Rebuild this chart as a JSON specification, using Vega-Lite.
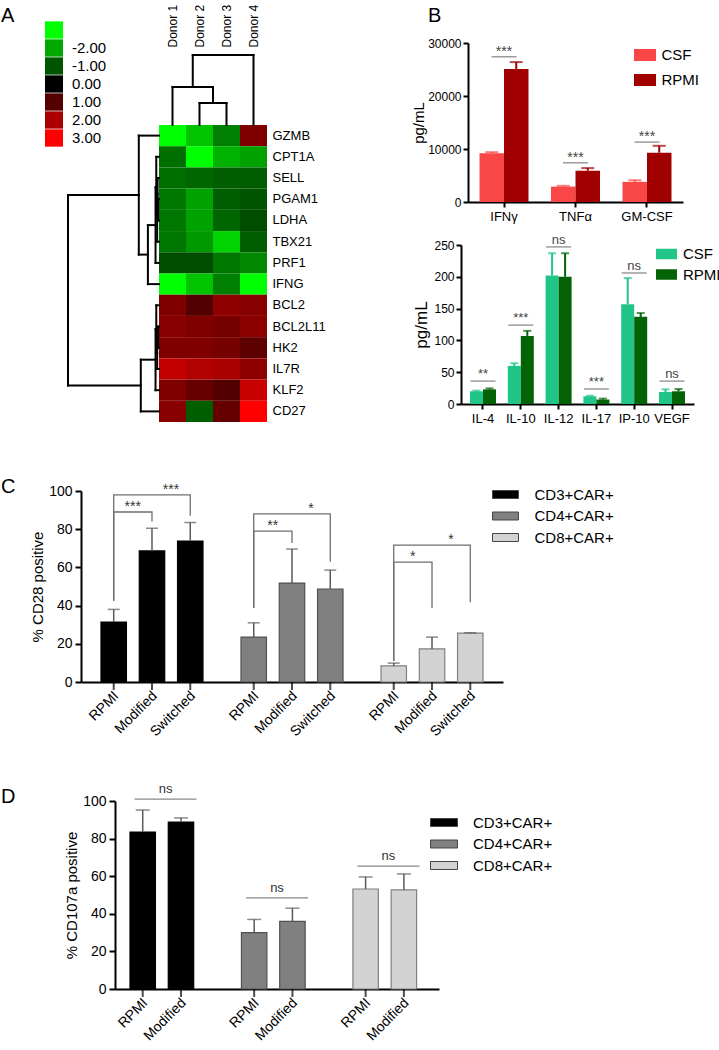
{
  "$schema": "https://vega.github.io/schema/vega-lite/v6.json",
  "padding": {"left": 0, "top": 0, "right": 0, "bottom": 0},
  "background": "white",
  "config": {
    "view": {"stroke": null},
    "font": "Liberation Sans",
    "axis": {"grid": false, "domainColor": "black", "tickColor": "black", "labelColor": "black", "titleColor": "black", "labelFont": "Liberation Sans", "titleFont": "Liberation Sans", "titleFontWeight": "normal"},
    "legend": {"labelFont": "Liberation Sans", "labelColor": "black", "padding": 0},
    "title": {"font": "Liberation Sans", "fontWeight": "normal", "fontSize": 20, "anchor": "start", "frame": "group", "color": "black", "baseline": "alphabetic", "offset": 0}
  },
  "datasets": {
    "heat": [
      {"gene": "GZMB", "donor": "Donor 1", "v": -3}, {"gene": "GZMB", "donor": "Donor 2", "v": -2.3}, {"gene": "GZMB", "donor": "Donor 3", "v": -1.5}, {"gene": "GZMB", "donor": "Donor 4", "v": 1.5},
      {"gene": "CPT1A", "donor": "Donor 1", "v": -1.3}, {"gene": "CPT1A", "donor": "Donor 2", "v": -3}, {"gene": "CPT1A", "donor": "Donor 3", "v": -2.1}, {"gene": "CPT1A", "donor": "Donor 4", "v": -1.9},
      {"gene": "SELL", "donor": "Donor 1", "v": -1.3}, {"gene": "SELL", "donor": "Donor 2", "v": -1.2}, {"gene": "SELL", "donor": "Donor 3", "v": -1.1}, {"gene": "SELL", "donor": "Donor 4", "v": -1.1},
      {"gene": "PGAM1", "donor": "Donor 1", "v": -1.4}, {"gene": "PGAM1", "donor": "Donor 2", "v": -1.9}, {"gene": "PGAM1", "donor": "Donor 3", "v": -1.1}, {"gene": "PGAM1", "donor": "Donor 4", "v": -1.0},
      {"gene": "LDHA", "donor": "Donor 1", "v": -1.4}, {"gene": "LDHA", "donor": "Donor 2", "v": -1.9}, {"gene": "LDHA", "donor": "Donor 3", "v": -1.2}, {"gene": "LDHA", "donor": "Donor 4", "v": -0.9},
      {"gene": "TBX21", "donor": "Donor 1", "v": -1.4}, {"gene": "TBX21", "donor": "Donor 2", "v": -1.8}, {"gene": "TBX21", "donor": "Donor 3", "v": -2.5}, {"gene": "TBX21", "donor": "Donor 4", "v": -1.1},
      {"gene": "PRF1", "donor": "Donor 1", "v": -0.9}, {"gene": "PRF1", "donor": "Donor 2", "v": -0.9}, {"gene": "PRF1", "donor": "Donor 3", "v": -1.4}, {"gene": "PRF1", "donor": "Donor 4", "v": -1.6},
      {"gene": "IFNG", "donor": "Donor 1", "v": -3}, {"gene": "IFNG", "donor": "Donor 2", "v": -2.3}, {"gene": "IFNG", "donor": "Donor 3", "v": -1.5}, {"gene": "IFNG", "donor": "Donor 4", "v": -3},
      {"gene": "BCL2", "donor": "Donor 1", "v": 1.5}, {"gene": "BCL2", "donor": "Donor 2", "v": 1.0}, {"gene": "BCL2", "donor": "Donor 3", "v": 1.7}, {"gene": "BCL2", "donor": "Donor 4", "v": 1.6},
      {"gene": "BCL2L11", "donor": "Donor 1", "v": 1.6}, {"gene": "BCL2L11", "donor": "Donor 2", "v": 1.5}, {"gene": "BCL2L11", "donor": "Donor 3", "v": 1.4}, {"gene": "BCL2L11", "donor": "Donor 4", "v": 1.65},
      {"gene": "HK2", "donor": "Donor 1", "v": 1.5}, {"gene": "HK2", "donor": "Donor 2", "v": 1.5}, {"gene": "HK2", "donor": "Donor 3", "v": 1.4}, {"gene": "HK2", "donor": "Donor 4", "v": 1.1},
      {"gene": "IL7R", "donor": "Donor 1", "v": 2.3}, {"gene": "IL7R", "donor": "Donor 2", "v": 2.1}, {"gene": "IL7R", "donor": "Donor 3", "v": 2.0}, {"gene": "IL7R", "donor": "Donor 4", "v": 1.7},
      {"gene": "KLF2", "donor": "Donor 1", "v": 1.5}, {"gene": "KLF2", "donor": "Donor 2", "v": 1.2}, {"gene": "KLF2", "donor": "Donor 3", "v": 1.0}, {"gene": "KLF2", "donor": "Donor 4", "v": 2.35},
      {"gene": "CD27", "donor": "Donor 1", "v": 1.6}, {"gene": "CD27", "donor": "Donor 2", "v": -1.1}, {"gene": "CD27", "donor": "Donor 3", "v": 1.2}, {"gene": "CD27", "donor": "Donor 4", "v": 3.0}
    ],
    "coldendro": [
      {"x1": 1.5, "x2": 1.5, "h1": 0, "h2": 0.314}, {"x1": 2.5, "x2": 2.5, "h1": 0, "h2": 0.314}, {"x1": 1.5, "x2": 2.5, "h1": 0.314, "h2": 0.314},
      {"x1": 0.5, "x2": 0.5, "h1": 0, "h2": 0.543}, {"x1": 2, "x2": 2, "h1": 0.314, "h2": 0.543}, {"x1": 0.5, "x2": 2, "h1": 0.543, "h2": 0.543},
      {"x1": 1.25, "x2": 1.25, "h1": 0.543, "h2": 1}, {"x1": 3.5, "x2": 3.5, "h1": 0, "h2": 1}, {"x1": 1.25, "x2": 3.5, "h1": 1, "h2": 1}
    ],
    "rowdendro": [
      {"d1": 0.01, "d2": 0.01, "p1": 3.5, "p2": 4.5}, {"d1": 0, "d2": 0.01, "p1": 3.5, "p2": 3.5}, {"d1": 0, "d2": 0.01, "p1": 4.5, "p2": 4.5},
      {"d1": 0.015, "d2": 0.015, "p1": 2.5, "p2": 4.0}, {"d1": 0, "d2": 0.015, "p1": 2.5, "p2": 2.5}, {"d1": 0.01, "d2": 0.015, "p1": 4.0, "p2": 4.0},
      {"d1": 0.02, "d2": 0.02, "p1": 3.25, "p2": 5.5}, {"d1": 0.015, "d2": 0.02, "p1": 3.25, "p2": 3.25}, {"d1": 0, "d2": 0.02, "p1": 5.5, "p2": 5.5},
      {"d1": 0.03, "d2": 0.03, "p1": 1.5, "p2": 4.375}, {"d1": 0, "d2": 0.03, "p1": 1.5, "p2": 1.5}, {"d1": 0.02, "d2": 0.03, "p1": 4.375, "p2": 4.375},
      {"d1": 0.038, "d2": 0.038, "p1": 2.9375, "p2": 6.5}, {"d1": 0.03, "d2": 0.038, "p1": 2.9375, "p2": 2.9375}, {"d1": 0, "d2": 0.038, "p1": 6.5, "p2": 6.5},
      {"d1": 0.122, "d2": 0.122, "p1": 4.71875, "p2": 7.5}, {"d1": 0.038, "d2": 0.122, "p1": 4.71875, "p2": 4.71875}, {"d1": 0, "d2": 0.122, "p1": 7.5, "p2": 7.5},
      {"d1": 0.222, "d2": 0.222, "p1": 0.5, "p2": 6.109}, {"d1": 0, "d2": 0.222, "p1": 0.5, "p2": 0.5}, {"d1": 0.122, "d2": 0.222, "p1": 6.109, "p2": 6.109},
      {"d1": 0.01, "d2": 0.01, "p1": 9.5, "p2": 10.5}, {"d1": 0, "d2": 0.01, "p1": 9.5, "p2": 9.5}, {"d1": 0, "d2": 0.01, "p1": 10.5, "p2": 10.5},
      {"d1": 0.02, "d2": 0.02, "p1": 10.0, "p2": 11.5}, {"d1": 0.01, "d2": 0.02, "p1": 10.0, "p2": 10.0}, {"d1": 0, "d2": 0.02, "p1": 11.5, "p2": 11.5},
      {"d1": 0.03, "d2": 0.03, "p1": 8.5, "p2": 10.75}, {"d1": 0, "d2": 0.03, "p1": 8.5, "p2": 8.5}, {"d1": 0.02, "d2": 0.03, "p1": 10.75, "p2": 10.75},
      {"d1": 0.038, "d2": 0.038, "p1": 9.625, "p2": 12.5}, {"d1": 0.03, "d2": 0.038, "p1": 9.625, "p2": 9.625}, {"d1": 0, "d2": 0.038, "p1": 12.5, "p2": 12.5},
      {"d1": 0.2, "d2": 0.2, "p1": 11.0625, "p2": 13.5}, {"d1": 0.038, "d2": 0.2, "p1": 11.0625, "p2": 11.0625}, {"d1": 0, "d2": 0.2, "p1": 13.5, "p2": 13.5},
      {"d1": 1, "d2": 1, "p1": 3.305, "p2": 12.28}, {"d1": 0.222, "d2": 1, "p1": 3.305, "p2": 3.305}, {"d1": 0.2, "d2": 1, "p1": 12.28, "p2": 12.28}
    ],
    "b1": [
      {"cat": "IFNγ", "grp": "CSF", "mean": 9200, "up": 9400}, {"cat": "IFNγ", "grp": "RPMI", "mean": 25100, "up": 26400},
      {"cat": "TNFα", "grp": "CSF", "mean": 2900, "up": 3050}, {"cat": "TNFα", "grp": "RPMI", "mean": 5900, "up": 6400},
      {"cat": "GM-CSF", "grp": "CSF", "mean": 3800, "up": 4100}, {"cat": "GM-CSF", "grp": "RPMI", "mean": 9300, "up": 10600}
    ],
    "b1sig": [
      {"cat": "IFNγ", "y": 27400, "label": "***"}, {"cat": "TNFα", "y": 7400, "label": "***"}, {"cat": "GM-CSF", "y": 11300, "label": "***"}
    ],
    "b2": [
      {"cat": "IL-4", "grp": "CSF", "mean": 20, "up": 21}, {"cat": "IL-4", "grp": "RPMI", "mean": 23, "up": 24.5},
      {"cat": "IL-10", "grp": "CSF", "mean": 60, "up": 64}, {"cat": "IL-10", "grp": "RPMI", "mean": 107, "up": 115},
      {"cat": "IL-12", "grp": "CSF", "mean": 202, "up": 237}, {"cat": "IL-12", "grp": "RPMI", "mean": 200, "up": 237},
      {"cat": "IL-17", "grp": "CSF", "mean": 12, "up": 13}, {"cat": "IL-17", "grp": "RPMI", "mean": 7, "up": 8.5},
      {"cat": "IP-10", "grp": "CSF", "mean": 157, "up": 198}, {"cat": "IP-10", "grp": "RPMI", "mean": 137, "up": 143},
      {"cat": "VEGF", "grp": "CSF", "mean": 19, "up": 23}, {"cat": "VEGF", "grp": "RPMI", "mean": 20, "up": 23.5}
    ],
    "b2sig": [
      {"cat": "IL-4", "y": 36, "label": "**"}, {"cat": "IL-10", "y": 124, "label": "***"}, {"cat": "IL-12", "y": 247, "label": "ns"},
      {"cat": "IL-17", "y": 23.6, "label": "***"}, {"cat": "IP-10", "y": 206, "label": "ns"}, {"cat": "VEGF", "y": 36, "label": "ns"}
    ],
    "c": [
      {"ct": "CD3+CAR+", "cond": "RPMI", "mean": 31.4, "up": 38}, {"ct": "CD3+CAR+", "cond": "Modified", "mean": 68.6, "up": 80.5}, {"ct": "CD3+CAR+", "cond": "Switched", "mean": 73.8, "up": 83.5},
      {"ct": "CD4+CAR+", "cond": "RPMI", "mean": 23.5, "up": 31}, {"ct": "CD4+CAR+", "cond": "Modified", "mean": 51.8, "up": 69.6}, {"ct": "CD4+CAR+", "cond": "Switched", "mean": 48.7, "up": 58.6},
      {"ct": "CD8+CAR+", "cond": "RPMI", "mean": 8.4, "up": 9.9}, {"ct": "CD8+CAR+", "cond": "Modified", "mean": 17.3, "up": 23.5}, {"ct": "CD8+CAR+", "cond": "Switched", "mean": 25.6, "up": 25.8}
    ],
    "cbr": [
      {"id": "c3a", "ct": "CD3+CAR+", "cond": "RPMI", "v": 42.5, "o": 1}, {"id": "c3a", "ct": "CD3+CAR+", "cond": "RPMI", "v": 89, "o": 2}, {"id": "c3a", "ct": "CD3+CAR+", "cond": "Modified", "v": 89, "o": 3}, {"id": "c3a", "ct": "CD3+CAR+", "cond": "Modified", "v": 84, "o": 4},
      {"id": "c3b", "ct": "CD3+CAR+", "cond": "RPMI", "v": 42.5, "o": 1}, {"id": "c3b", "ct": "CD3+CAR+", "cond": "RPMI", "v": 98, "o": 2}, {"id": "c3b", "ct": "CD3+CAR+", "cond": "Switched", "v": 98, "o": 3}, {"id": "c3b", "ct": "CD3+CAR+", "cond": "Switched", "v": 87, "o": 4},
      {"id": "c4a", "ct": "CD4+CAR+", "cond": "RPMI", "v": 38.7, "o": 1}, {"id": "c4a", "ct": "CD4+CAR+", "cond": "RPMI", "v": 79, "o": 2}, {"id": "c4a", "ct": "CD4+CAR+", "cond": "Modified", "v": 79, "o": 3}, {"id": "c4a", "ct": "CD4+CAR+", "cond": "Modified", "v": 72.8, "o": 4},
      {"id": "c4b", "ct": "CD4+CAR+", "cond": "RPMI", "v": 38.7, "o": 1}, {"id": "c4b", "ct": "CD4+CAR+", "cond": "RPMI", "v": 88, "o": 2}, {"id": "c4b", "ct": "CD4+CAR+", "cond": "Switched", "v": 88, "o": 3}, {"id": "c4b", "ct": "CD4+CAR+", "cond": "Switched", "v": 63, "o": 4},
      {"id": "c8a", "ct": "CD8+CAR+", "cond": "RPMI", "v": 11, "o": 1}, {"id": "c8a", "ct": "CD8+CAR+", "cond": "RPMI", "v": 62.8, "o": 2}, {"id": "c8a", "ct": "CD8+CAR+", "cond": "Modified", "v": 62.8, "o": 3}, {"id": "c8a", "ct": "CD8+CAR+", "cond": "Modified", "v": 38.7, "o": 4},
      {"id": "c8b", "ct": "CD8+CAR+", "cond": "RPMI", "v": 11, "o": 1}, {"id": "c8b", "ct": "CD8+CAR+", "cond": "RPMI", "v": 71.7, "o": 2}, {"id": "c8b", "ct": "CD8+CAR+", "cond": "Switched", "v": 71.7, "o": 3}, {"id": "c8b", "ct": "CD8+CAR+", "cond": "Switched", "v": 41.8, "o": 4}
    ],
    "ctext": [
      {"ct": "CD3+CAR+", "a": "RPMI", "v": 89, "label": "***"}, {"ct": "CD3+CAR+", "a": "Modified", "v": 98, "label": "***"},
      {"ct": "CD4+CAR+", "a": "RPMI", "v": 79, "label": "**"}, {"ct": "CD4+CAR+", "a": "Modified", "v": 88, "label": "*"},
      {"ct": "CD8+CAR+", "a": "RPMI", "v": 62.8, "label": "*"}, {"ct": "CD8+CAR+", "a": "Modified", "v": 71.7, "label": "*"}
    ],
    "d": [
      {"ct": "CD3+CAR+", "cond": "RPMI", "mean": 83.5, "up": 95.2}, {"ct": "CD3+CAR+", "cond": "Modified", "mean": 88.8, "up": 91},
      {"ct": "CD4+CAR+", "cond": "RPMI", "mean": 30, "up": 37}, {"ct": "CD4+CAR+", "cond": "Modified", "mean": 36, "up": 43},
      {"ct": "CD8+CAR+", "cond": "RPMI", "mean": 53.2, "up": 59.6}, {"ct": "CD8+CAR+", "cond": "Modified", "mean": 52.7, "up": 61.2}
    ],
    "dsig": [
      {"ct": "CD3+CAR+", "v": 101, "label": "ns"}, {"ct": "CD4+CAR+", "v": 48.5, "label": "ns"}, {"ct": "CD8+CAR+", "v": 65.4, "label": "ns"}
    ]
  },
  "bounds": "flush",
  "spacing": 0,
  "vconcat": [
    {
      "width": 719, "height": 1,
      "title": {"text": "A", "dx": 1, "dy": 30},
      "resolve": {"scale": {"x": "independent", "y": "independent"}, "axis": {"x": "independent", "y": "independent"}},
      "layer": [
        {
          "data": {"name": "heat"},
          "mark": {"type": "rect"},
          "encoding": {
            "x": {"field": "donor", "type": "nominal", "sort": ["Donor 1", "Donor 2", "Donor 3", "Donor 4"], "scale": {"range": [159, 267], "paddingInner": 0, "paddingOuter": 0},
              "axis": {"orient": "top", "offset": -49, "title": null, "labelAngle": 270, "labelFontSize": 12, "ticks": false, "domain": false, "labelPadding": 2}},
            "y": {"field": "gene", "type": "nominal", "sort": ["GZMB", "CPT1A", "SELL", "PGAM1", "LDHA", "TBX21", "PRF1", "IFNG", "BCL2", "BCL2L11", "HK2", "IL7R", "KLF2", "CD27"], "scale": {"range": [125, 422], "paddingInner": 0, "paddingOuter": 0},
              "axis": {"orient": "right", "offset": -452, "title": null, "ticks": false, "domain": false, "labelFontSize": 13, "labelPadding": 5}},
            "color": {"field": "v", "type": "quantitative",
              "scale": {"domain": [-3, 0, 3], "range": ["#00ff00", "#000000", "#ff0000"], "interpolate": "rgb", "clamp": true},
              "legend": {"type": "symbol", "values": [-3, -2, -1, 0, 1, 2, 3], "orient": "none", "legendX": 45, "legendY": 21, "direction": "vertical", "title": null,
                "symbolType": "M-1.04,-1H1.04V1H-1.04Z", "symbolSize": 300, "symbolStrokeWidth": 0, "symbolOpacity": 1, "rowPadding": 0,
                "labelFontSize": 15, "labelOffset": 9, "padding": 0,
                "labelExpr": "datum.value == -3 ? '' : (datum.value < 0 ? '-' + format(-datum.value, '.2f') : format(datum.value, '.2f'))"}}
          }
        },
        {
          "data": {"name": "rowdendro"},
          "mark": {"type": "rule", "strokeWidth": 2, "color": "black", "strokeCap": "square"},
          "encoding": {
            "x": {"field": "d1", "type": "quantitative", "scale": {"domain": [0, 1], "range": [159, 68], "nice": false, "zero": false}, "axis": null},
            "x2": {"field": "d2"},
            "y": {"field": "p1", "type": "quantitative", "scale": {"domain": [0, 14], "range": [125, 422], "nice": false, "zero": false}, "axis": null},
            "y2": {"field": "p2"}
          }
        },
        {
          "data": {"name": "coldendro"},
          "mark": {"type": "rule", "strokeWidth": 2, "color": "black", "strokeCap": "square"},
          "encoding": {
            "x": {"field": "x1", "type": "quantitative", "scale": {"domain": [0, 4], "range": [159, 267], "nice": false, "zero": false}, "axis": null},
            "x2": {"field": "x2"},
            "y": {"field": "h1", "type": "quantitative", "scale": {"domain": [0, 1], "range": [125, 55], "nice": false}, "axis": null},
            "y2": {"field": "h2"}
          }
        }
      ]
    },
    {
      "width": 719, "height": 1,
      "title": {"text": "B", "dx": 428, "dy": 29},
      "resolve": {"scale": {"x": "independent", "y": "independent", "xOffset": "independent", "color": "independent", "fill": "independent", "stroke": "independent"}, "axis": {"x": "independent", "y": "independent"}, "legend": {"color": "independent"}},
      "layer": [
        {
          "layer": [
            {
              "data": {"name": "b1"},
              "mark": {"type": "bar"},
              "encoding": {
                "x": {"field": "cat", "type": "nominal", "sort": ["IFNγ", "TNFα", "GM-CSF"], "scale": {"range": [468, 683], "paddingInner": 0.315, "paddingOuter": 0.161},
                  "axis": {"orient": "bottom", "offset": 200, "title": null, "labelAngle": 0, "labelFontSize": 13, "domainWidth": 2, "tickWidth": 2, "tickSize": 5, "labelPadding": 3}},
                "xOffset": {"field": "grp", "type": "nominal", "scale": {"domain": ["CSF", "RPMI"], "paddingInner": 0, "paddingOuter": 0}},
                "y": {"field": "mean", "type": "quantitative", "scale": {"domain": [0, 30000], "range": [201, 42], "nice": false},
                  "axis": {"orient": "left", "offset": -468, "values": [0, 10000, 20000, 30000], "tickCount": 20, "format": "d", "title": "pg/mL", "titleFontSize": 15, "titlePadding": 1, "labelFontSize": 12, "domainWidth": 2, "tickWidth": 2, "tickSize": 5, "labelPadding": 2}},
                "color": {"field": "grp", "type": "nominal", "scale": {"domain": ["CSF", "RPMI"], "range": ["#f94646", "#a00000"]},
                  "legend": {"orient": "none", "legendX": 634, "legendY": 46.5, "direction": "vertical", "title": null, "symbolType": "M-1.467,-0.8H1.467V0.8H-1.467Z", "symbolSize": 225, "symbolOffset": 3.5, "symbolStrokeWidth": 0, "labelFontSize": 15, "labelOffset": 9, "rowPadding": 9, "padding": 0}}
              }
            },
            {
              "data": {"name": "b1"},
              "mark": {"type": "rule", "strokeWidth": 2},
              "encoding": {
                "x": {"field": "cat", "type": "nominal", "sort": ["IFNγ", "TNFα", "GM-CSF"]},
                "xOffset": {"field": "grp", "type": "nominal", "scale": {"domain": ["CSF", "RPMI"], "paddingInner": 0, "paddingOuter": 0}},
                "y": {"field": "mean", "type": "quantitative"},
                "y2": {"field": "up"},
                "stroke": {"field": "grp", "type": "nominal", "scale": {"domain": ["CSF", "RPMI"], "range": ["#f94646", "#a00000"]}, "legend": null}
              }
            },
            {
              "data": {"name": "b1"},
              "mark": {"type": "tick", "orient": "horizontal", "size": 13, "thickness": 2},
              "encoding": {
                "x": {"field": "cat", "type": "nominal", "sort": ["IFNγ", "TNFα", "GM-CSF"]},
                "xOffset": {"field": "grp", "type": "nominal", "scale": {"domain": ["CSF", "RPMI"], "paddingInner": 0, "paddingOuter": 0}},
                "y": {"field": "up", "type": "quantitative"},
                "fill": {"field": "grp", "type": "nominal", "scale": {"domain": ["CSF", "RPMI"], "range": ["#f94646", "#a00000"]}, "legend": null}
              }
            },
            {
              "data": {"name": "b1sig"},
              "mark": {"type": "tick", "orient": "horizontal", "size": 25, "thickness": 1.5, "color": "#707070"},
              "encoding": {
                "x": {"field": "cat", "type": "nominal", "sort": ["IFNγ", "TNFα", "GM-CSF"]},
                "y": {"field": "y", "type": "quantitative"}
              }
            },
            {
              "data": {"name": "b1sig"},
              "mark": {"type": "text", "baseline": "bottom", "dy": 2, "fontSize": 14, "color": "#444444"},
              "encoding": {
                "x": {"field": "cat", "type": "nominal", "sort": ["IFNγ", "TNFα", "GM-CSF"]},
                "y": {"field": "y", "type": "quantitative"},
                "text": {"field": "label"}
              }
            }
          ]
        },
        {
          "layer": [
            {
              "data": {"name": "b2"},
              "mark": {"type": "bar"},
              "encoding": {
                "x": {"field": "cat", "type": "nominal", "sort": ["IL-4", "IL-10", "IL-12", "IL-17", "IP-10", "VEGF"], "scale": {"range": [461, 694], "paddingInner": 0.312, "paddingOuter": 0.238},
                  "axis": {"orient": "bottom", "offset": 402, "title": null, "labelAngle": 0, "labelFontSize": 13, "domainWidth": 2, "tickWidth": 2, "tickSize": 5, "labelPadding": 3}},
                "xOffset": {"field": "grp", "type": "nominal", "scale": {"domain": ["CSF", "RPMI"], "paddingInner": 0, "paddingOuter": 0}},
                "y": {"field": "mean", "type": "quantitative", "scale": {"domain": [0, 250], "range": [403, 244], "nice": false},
                  "axis": {"orient": "left", "offset": -461, "values": [0, 50, 100, 150, 200, 250], "tickCount": 20, "title": "pg/mL", "titleFontSize": 17, "labelFontSize": 12, "domainWidth": 2, "tickWidth": 2, "tickSize": 5, "labelPadding": 2, "titlePadding": 3}},
                "color": {"field": "grp", "type": "nominal", "scale": {"domain": ["CSF", "RPMI"], "range": ["#20c587", "#046307"]},
                  "legend": {"orient": "none", "legendX": 656, "legendY": 245.5, "direction": "vertical", "title": null, "symbolType": "M-1.4,-0.7H1.4V0.7H-1.4Z", "symbolSize": 225, "symbolOffset": 3, "symbolStrokeWidth": 0, "labelFontSize": 15, "labelOffset": 9, "rowPadding": 4.5, "padding": 0}}
              }
            },
            {
              "data": {"name": "b2"},
              "mark": {"type": "rule", "strokeWidth": 2},
              "encoding": {
                "x": {"field": "cat", "type": "nominal", "sort": ["IL-4", "IL-10", "IL-12", "IL-17", "IP-10", "VEGF"]},
                "xOffset": {"field": "grp", "type": "nominal", "scale": {"domain": ["CSF", "RPMI"], "paddingInner": 0, "paddingOuter": 0}},
                "y": {"field": "mean", "type": "quantitative"},
                "y2": {"field": "up"},
                "stroke": {"field": "grp", "type": "nominal", "scale": {"domain": ["CSF", "RPMI"], "range": ["#20c587", "#046307"]}, "legend": null}
              }
            },
            {
              "data": {"name": "b2"},
              "mark": {"type": "tick", "orient": "horizontal", "size": 8, "thickness": 2},
              "encoding": {
                "x": {"field": "cat", "type": "nominal", "sort": ["IL-4", "IL-10", "IL-12", "IL-17", "IP-10", "VEGF"]},
                "xOffset": {"field": "grp", "type": "nominal", "scale": {"domain": ["CSF", "RPMI"], "paddingInner": 0, "paddingOuter": 0}},
                "y": {"field": "up", "type": "quantitative"},
                "fill": {"field": "grp", "type": "nominal", "scale": {"domain": ["CSF", "RPMI"], "range": ["#20c587", "#046307"]}, "legend": null}
              }
            },
            {
              "data": {"name": "b2sig"},
              "mark": {"type": "tick", "orient": "horizontal", "size": 25, "thickness": 1.5, "color": "#707070"},
              "encoding": {
                "x": {"field": "cat", "type": "nominal", "sort": ["IL-4", "IL-10", "IL-12", "IL-17", "IP-10", "VEGF"]},
                "y": {"field": "y", "type": "quantitative"}
              }
            },
            {
              "data": {"name": "b2sig"},
              "mark": {"type": "text", "baseline": "bottom", "dy": 0, "fontSize": 13, "color": "#444444"},
              "encoding": {
                "x": {"field": "cat", "type": "nominal", "sort": ["IL-4", "IL-10", "IL-12", "IL-17", "IP-10", "VEGF"]},
                "y": {"field": "y", "type": "quantitative"},
                "text": {"field": "label"}
              }
            }
          ]
        }
      ]
    },
    {
      "width": 719, "height": 1,
      "title": {"text": "C", "dx": 1, "dy": 499},
      "layer": [
        {
          "data": {"name": "c"},
          "mark": {"type": "bar", "strokeWidth": 1.2},
          "encoding": {
            "x": {"field": "ct", "type": "nominal", "sort": ["CD3+CAR+", "CD4+CAR+", "CD8+CAR+"], "scale": {"range": [81, 503], "paddingInner": 0.18, "paddingOuter": 0.097},
              "axis": {"orient": "bottom", "offset": 679, "title": null, "labels": false, "ticks": false, "domainWidth": 2}},
            "xOffset": {"field": "cond", "type": "nominal", "scale": {"domain": ["RPMI", "Modified", "Switched"], "paddingInner": 0.335, "paddingOuter": 0.1675}},
            "y": {"field": "mean", "type": "quantitative", "scale": {"domain": [0, 100], "range": [680, 489], "nice": false},
              "axis": {"orient": "left", "offset": -81, "values": [0, 20, 40, 60, 80, 100], "tickCount": 20, "title": "% CD28 positive", "titleFontSize": 15, "labelFontSize": 14, "domainWidth": 2, "tickWidth": 2, "tickSize": 6, "labelPadding": 3, "titlePadding": 3}},
            "color": {"field": "ct", "type": "nominal", "scale": {"domain": ["CD3+CAR+", "CD4+CAR+", "CD8+CAR+"], "range": ["#000000", "#808080", "#d3d3d3"]},
              "legend": {"orient": "none", "legendX": 492, "legendY": 484.5, "direction": "vertical", "title": null, "symbolType": "M-1.733,-0.533H1.733V0.533H-1.733Z", "symbolSize": 225, "symbolOffset": 5.5, "symbolStrokeColor": "#444444", "symbolStrokeWidth": 1, "labelFontSize": 15, "labelOffset": 21, "rowPadding": 5.5, "padding": 0}},
            "stroke": {"field": "ct", "type": "nominal", "scale": {"domain": ["CD3+CAR+", "CD4+CAR+", "CD8+CAR+"], "range": ["#000000", "#505050", "#808080"]}, "legend": null}
          }
        },
        {
          "data": {"name": "c"},
          "mark": {"type": "rule", "strokeWidth": 1.5, "color": "#5a5a5a"},
          "encoding": {
            "x": {"field": "ct", "type": "nominal", "sort": ["CD3+CAR+", "CD4+CAR+", "CD8+CAR+"]},
            "xOffset": {"field": "cond", "type": "nominal", "scale": {"domain": ["RPMI", "Modified", "Switched"], "paddingInner": 0.335, "paddingOuter": 0.1675}},
            "y": {"field": "mean", "type": "quantitative"},
            "y2": {"field": "up"}
          }
        },
        {
          "data": {"name": "c"},
          "mark": {"type": "tick", "orient": "horizontal", "size": 12, "thickness": 1.5, "color": "#5a5a5a"},
          "encoding": {
            "x": {"field": "ct", "type": "nominal", "sort": ["CD3+CAR+", "CD4+CAR+", "CD8+CAR+"]},
            "xOffset": {"field": "cond", "type": "nominal", "scale": {"domain": ["RPMI", "Modified", "Switched"], "paddingInner": 0.335, "paddingOuter": 0.1675}},
            "y": {"field": "up", "type": "quantitative"}
          }
        },
        {
          "data": {"name": "cbr"},
          "mark": {"type": "line", "strokeWidth": 1.3, "color": "#6e6e6e"},
          "encoding": {
            "x": {"field": "ct", "type": "nominal", "sort": ["CD3+CAR+", "CD4+CAR+", "CD8+CAR+"]},
            "xOffset": {"field": "cond", "type": "nominal", "scale": {"domain": ["RPMI", "Modified", "Switched"], "paddingInner": 0.335, "paddingOuter": 0.1675}},
            "y": {"field": "v", "type": "quantitative"},
            "detail": {"field": "id"},
            "order": {"field": "o", "type": "quantitative"}
          }
        },
        {
          "data": {"name": "ctext"},
          "mark": {"type": "text", "baseline": "bottom", "dx": 19, "dy": 2, "fontSize": 14, "color": "#333333"},
          "encoding": {
            "x": {"field": "ct", "type": "nominal", "sort": ["CD3+CAR+", "CD4+CAR+", "CD8+CAR+"]},
            "xOffset": {"field": "a", "type": "nominal", "scale": {"domain": ["RPMI", "Modified", "Switched"], "paddingInner": 0.335, "paddingOuter": 0.1675}},
            "y": {"field": "v", "type": "quantitative"},
            "text": {"field": "label"}
          }
        },
        {
          "data": {"name": "c"},
          "mark": {"type": "tick", "orient": "vertical", "size": 8, "thickness": 2, "color": "black", "yOffset": 4},
          "encoding": {
            "x": {"field": "ct", "type": "nominal", "sort": ["CD3+CAR+", "CD4+CAR+", "CD8+CAR+"]},
            "xOffset": {"field": "cond", "type": "nominal", "scale": {"domain": ["RPMI", "Modified", "Switched"], "paddingInner": 0.335, "paddingOuter": 0.1675}},
            "y": {"datum": 0, "type": "quantitative"}
          }
        },
        {
          "data": {"name": "c"},
          "mark": {"type": "text", "angle": 315, "align": "right", "baseline": "middle", "fontSize": 14, "yOffset": 12, "dx": 2, "dy": 2, "color": "black"},
          "encoding": {
            "x": {"field": "ct", "type": "nominal", "sort": ["CD3+CAR+", "CD4+CAR+", "CD8+CAR+"]},
            "xOffset": {"field": "cond", "type": "nominal", "scale": {"domain": ["RPMI", "Modified", "Switched"], "paddingInner": 0.335, "paddingOuter": 0.1675}},
            "y": {"datum": 0, "type": "quantitative"},
            "text": {"field": "cond"}
          }
        }
      ]
    },
    {
      "width": 719, "height": 1,
      "title": {"text": "D", "dx": 1, "dy": 808},
      "layer": [
        {
          "data": {"name": "d"},
          "mark": {"type": "bar", "strokeWidth": 1.2},
          "encoding": {
            "x": {"field": "ct", "type": "nominal", "sort": ["CD3+CAR+", "CD4+CAR+", "CD8+CAR+"], "scale": {"range": [115, 439], "paddingInner": 0.247, "paddingOuter": 0.077},
              "axis": {"orient": "bottom", "offset": 985, "title": null, "labels": false, "ticks": false, "domainWidth": 2}},
            "xOffset": {"field": "cond", "type": "nominal", "scale": {"domain": ["RPMI", "Modified"], "paddingInner": 0.333, "paddingOuter": 0.1667}},
            "y": {"field": "mean", "type": "quantitative", "scale": {"domain": [0, 100], "range": [986, 798], "nice": false},
              "axis": {"orient": "left", "offset": -115, "values": [0, 20, 40, 60, 80, 100], "tickCount": 20, "title": "% CD107a positive", "titleFontSize": 15, "labelFontSize": 14, "domainWidth": 2, "tickWidth": 2, "tickSize": 6, "labelPadding": 3, "titlePadding": 3}},
            "color": {"field": "ct", "type": "nominal", "scale": {"domain": ["CD3+CAR+", "CD4+CAR+", "CD8+CAR+"], "range": ["#000000", "#808080", "#d3d3d3"]},
              "legend": {"orient": "none", "legendX": 430, "legendY": 811.5, "direction": "vertical", "title": null, "symbolType": "M-1.8,-0.533H1.8V0.533H-1.8Z", "symbolSize": 225, "symbolOffset": 6, "symbolStrokeColor": "#444444", "symbolStrokeWidth": 1, "labelFontSize": 15, "labelOffset": 21, "rowPadding": 5.5, "padding": 0}},
            "stroke": {"field": "ct", "type": "nominal", "scale": {"domain": ["CD3+CAR+", "CD4+CAR+", "CD8+CAR+"], "range": ["#000000", "#505050", "#808080"]}, "legend": null}
          }
        },
        {
          "data": {"name": "d"},
          "mark": {"type": "rule", "strokeWidth": 1.5, "color": "#5a5a5a"},
          "encoding": {
            "x": {"field": "ct", "type": "nominal", "sort": ["CD3+CAR+", "CD4+CAR+", "CD8+CAR+"]},
            "xOffset": {"field": "cond", "type": "nominal", "scale": {"domain": ["RPMI", "Modified"], "paddingInner": 0.333, "paddingOuter": 0.1667}},
            "y": {"field": "mean", "type": "quantitative"},
            "y2": {"field": "up"}
          }
        },
        {
          "data": {"name": "d"},
          "mark": {"type": "tick", "orient": "horizontal", "size": 14, "thickness": 1.5, "color": "#5a5a5a"},
          "encoding": {
            "x": {"field": "ct", "type": "nominal", "sort": ["CD3+CAR+", "CD4+CAR+", "CD8+CAR+"]},
            "xOffset": {"field": "cond", "type": "nominal", "scale": {"domain": ["RPMI", "Modified"], "paddingInner": 0.333, "paddingOuter": 0.1667}},
            "y": {"field": "up", "type": "quantitative"}
          }
        },
        {
          "data": {"name": "dsig"},
          "mark": {"type": "tick", "orient": "horizontal", "size": 62, "thickness": 1.3, "color": "#555555"},
          "encoding": {
            "x": {"field": "ct", "type": "nominal", "sort": ["CD3+CAR+", "CD4+CAR+", "CD8+CAR+"]},
            "y": {"field": "v", "type": "quantitative"}
          }
        },
        {
          "data": {"name": "dsig"},
          "mark": {"type": "text", "baseline": "bottom", "dy": -3, "fontSize": 13, "color": "#333333"},
          "encoding": {
            "x": {"field": "ct", "type": "nominal", "sort": ["CD3+CAR+", "CD4+CAR+", "CD8+CAR+"]},
            "y": {"field": "v", "type": "quantitative"},
            "text": {"field": "label"}
          }
        },
        {
          "data": {"name": "d"},
          "mark": {"type": "tick", "orient": "vertical", "size": 8, "thickness": 2, "color": "black", "yOffset": 4},
          "encoding": {
            "x": {"field": "ct", "type": "nominal", "sort": ["CD3+CAR+", "CD4+CAR+", "CD8+CAR+"]},
            "xOffset": {"field": "cond", "type": "nominal", "scale": {"domain": ["RPMI", "Modified"], "paddingInner": 0.333, "paddingOuter": 0.1667}},
            "y": {"datum": 0, "type": "quantitative"}
          }
        },
        {
          "data": {"name": "d"},
          "mark": {"type": "text", "angle": 315, "align": "right", "baseline": "middle", "fontSize": 14, "yOffset": 12, "dx": 2, "dy": 2, "color": "black"},
          "encoding": {
            "x": {"field": "ct", "type": "nominal", "sort": ["CD3+CAR+", "CD4+CAR+", "CD8+CAR+"]},
            "xOffset": {"field": "cond", "type": "nominal", "scale": {"domain": ["RPMI", "Modified"], "paddingInner": 0.333, "paddingOuter": 0.1667}},
            "y": {"datum": 0, "type": "quantitative"},
            "text": {"field": "cond"}
          }
        }
      ]
    }
  ]
}
